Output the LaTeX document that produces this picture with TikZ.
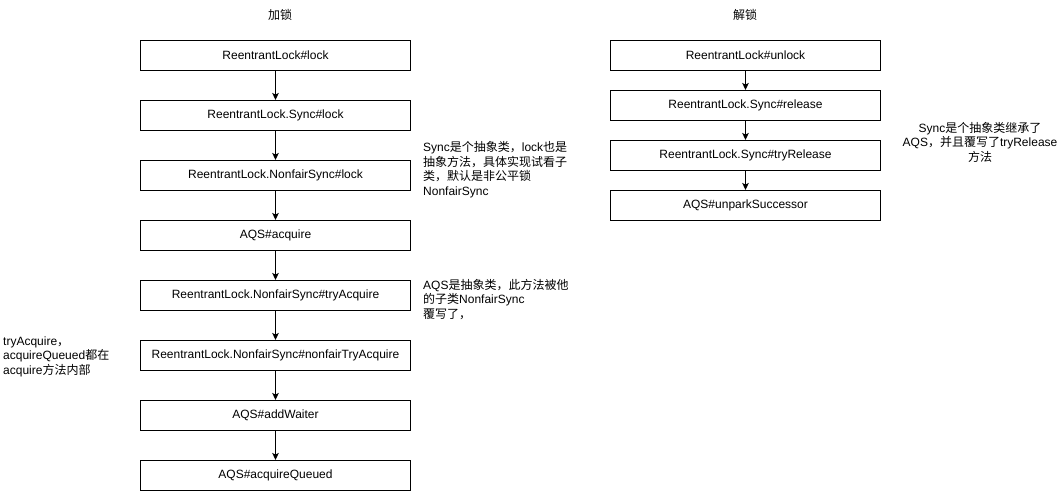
\documentclass[tikz,border=0pt]{standalone}
\usepackage{fontspec}
\setmainfont{Liberation Sans}
\newfontfamily\cjkfont{Noto Sans CJK SC}
\usetikzlibrary{positioning,arrows.meta}
\newcommand{\zh}[1]{{\cjkfont #1}}
\tikzset{
  callbox/.style={draw, line width=1pt, minimum width=270pt, minimum height=30pt, inner sep=0pt, outer sep=0pt},
  callarrow/.style={line width=1pt, -{Stealth[length=7pt,width=6.5pt,inset=1.5pt]}},
  notetext/.style={align=left, anchor=base west, inner sep=0pt},
}
\begin{document}
\begin{tikzpicture}[x=1pt,y=-1pt,font=\fontsize{12}{14.4}\selectfont]
\useasboundingbox (0,0) rectangle (1060,491);
% titles
\node (tlock) at (280,15) {\zh{加锁}};
\node (tunlock) at (745,15) {\zh{解锁}};
% lock chain
\node[callbox] (l1) at (275.5,55) {ReentrantLock\#lock};
\node[callbox, below=30pt of l1] (l2) {ReentrantLock.Sync\#lock};
\node[callbox, below=30pt of l2] (l3) {ReentrantLock.NonfairSync\#lock};
\node[callbox, below=30pt of l3] (l4) {AQS\#acquire};
\node[callbox, below=30pt of l4] (l5) {ReentrantLock.NonfairSync\#tryAcquire};
\node[callbox, below=30pt of l5] (l6) {ReentrantLock.NonfairSync\#nonfairTryAcquire};
\node[callbox, below=30pt of l6] (l7) {AQS\#addWaiter};
\node[callbox, below=30pt of l7] (l8) {AQS\#acquireQueued};
\foreach \a/\b in {l1/l2,l2/l3,l3/l4,l4/l5,l5/l6,l6/l7,l7/l8}
  \draw[callarrow] (\a) -- (\b);
% unlock chain
\node[callbox] (u1) at (745.5,55) {ReentrantLock\#unlock};
\node[callbox, below=20pt of u1] (u2) {ReentrantLock.Sync\#release};
\node[callbox, below=20pt of u2] (u3) {ReentrantLock.Sync\#tryRelease};
\node[callbox, below=20pt of u3] (u4) {AQS\#unparkSuccessor};
\foreach \a/\b in {u1/u2,u2/u3,u3/u4}
  \draw[callarrow] (\a) -- (\b);
% notes (anchored at the baseline of their last line)
\node[notetext] (nsync) at (423,195) {Sync\zh{是个抽象类，}lock\zh{也是}\\
  \zh{抽象方法，具体实现试看子}\\ \zh{类，默认是非公平锁}\\ NonfairSync};
\node[notetext] (naqs) at (423,318) {AQS\zh{是抽象类，此方法被他}\\
  \zh{的子类}NonfairSync\\ \zh{覆写了，}};
\node[notetext] (ninner) at (3,374) {tryAcquire\zh{，}\\
  acquireQueued\zh{都在}\\ acquire\zh{方法内部}};
\node[align=center, anchor=base, inner sep=0pt] (nrel) at (980,161) {Sync\zh{是个抽象类继承了}\\
  AQS\zh{，并且覆写了}tryRelease\\ \zh{方法}};
\end{tikzpicture}
\end{document}
